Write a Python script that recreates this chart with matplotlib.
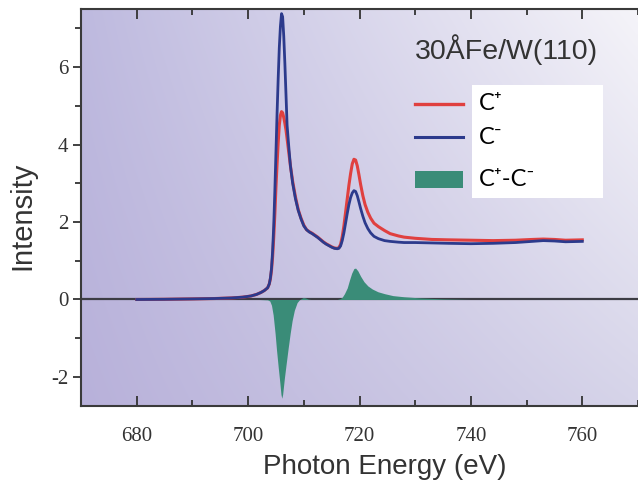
import numpy as np
import matplotlib
matplotlib.use("Agg")
import matplotlib.pyplot as plt
from matplotlib.lines import Line2D
from matplotlib.patches import Rectangle

# photon energy grid (eV) and the two helicity spectra
energy = [680, 685, 690, 694, 697, 699, 700.5, 701.5, 702.3, 702.9, 703.5, 703.8,
          704.0, 704.2, 704.4, 704.6, 704.8, 705.0, 705.2, 705.4, 705.6, 705.8,
          706.0, 706.2, 706.4, 706.6, 706.8, 707.0, 707.3, 707.6, 708.0, 708.5,
          709.0, 709.5, 710.0, 710.5, 711.0, 711.5, 712.0, 712.5, 713.0, 713.5,
          714.0, 714.5, 715.0, 715.5, 716.0, 716.3, 716.6, 716.9, 717.2, 717.5,
          717.8, 718.1, 718.4, 718.7, 719.0, 719.3, 719.6, 719.9, 720.2, 720.6,
          721.0, 721.5, 722.0, 722.6, 723.4, 724.5, 725.5, 727, 728, 730, 733, 736,
          740, 744, 748, 751, 753, 755, 757, 760]
c_plus = [0.0, 0.005, 0.015, 0.025, 0.04, 0.06, 0.09, 0.13, 0.18, 0.23, 0.3, 0.4,
          0.53, 0.75, 1.1, 1.6, 2.2, 2.9, 3.5, 4.05, 4.5, 4.75,
          4.85, 4.82, 4.7, 4.55, 4.38, 4.15, 3.8, 3.45, 3.05, 2.65,
          2.32, 2.1, 1.92, 1.8, 1.75, 1.71, 1.66, 1.61, 1.55, 1.49,
          1.44, 1.4, 1.36, 1.33, 1.32, 1.34, 1.42, 1.62, 1.9, 2.25,
          2.6, 2.95, 3.25, 3.5, 3.62, 3.6, 3.45, 3.22, 2.97, 2.68,
          2.45, 2.25, 2.1, 1.97, 1.88, 1.78, 1.7, 1.64, 1.61, 1.58, 1.55, 1.54,
          1.53, 1.52, 1.53, 1.55, 1.56, 1.55, 1.53, 1.54]
c_minus = [0.0, 0.005, 0.015, 0.025, 0.04, 0.06, 0.09, 0.13, 0.18, 0.23, 0.3, 0.4,
           0.55, 0.8, 1.25, 1.9, 2.8, 3.8, 4.8, 5.7, 6.5, 7.05,
           7.38, 7.3, 6.8, 6.1, 5.3, 4.5, 3.95, 3.45, 3.0, 2.6,
           2.3, 2.08, 1.9, 1.8, 1.74, 1.7, 1.65, 1.6, 1.54, 1.48,
           1.43, 1.39, 1.35, 1.32, 1.31, 1.32, 1.38, 1.52, 1.72, 1.97,
           2.22, 2.45, 2.63, 2.75, 2.81, 2.79, 2.68, 2.52, 2.35, 2.15,
           1.98, 1.83, 1.72, 1.63, 1.57, 1.52, 1.5, 1.48, 1.47, 1.47, 1.46, 1.45,
           1.44, 1.45, 1.47, 1.5, 1.52, 1.51, 1.49, 1.5]

# dichroism signal C+ - C-
energy_d = [680, 700, 702, 703.5, 703.9, 704.2, 704.5, 704.85, 705.1, 705.4, 705.7,
            705.9, 706.05, 706.2, 706.5, 706.8, 707.2, 707.55, 707.9, 708.3, 708.8,
            709.2, 709.5, 709.9, 710.3, 710.8, 711.3, 716.0, 716.5, 716.9, 717.3,
            717.8, 718.2, 718.6, 719.0, 719.3, 719.7, 720.2, 720.8, 721.5, 722.3,
            723.3, 724.5, 726, 728, 731, 735, 740, 760]
diff = [0.0, 0.0, 0.0, -0.01, -0.04, -0.15, -0.4, -0.88, -1.3, -1.74, -2.15,
        -2.45, -2.55, -2.45, -2.05, -1.7, -1.25, -0.88, -0.55, -0.28, -0.08,
        -0.01, 0.02, 0.05, 0.04, 0.01, 0.0, 0.0, 0.02, 0.06, 0.15,
        0.3, 0.5, 0.68, 0.8, 0.81, 0.74, 0.6, 0.46, 0.35, 0.27,
        0.2, 0.15, 0.1, 0.07, 0.04, 0.015, 0.0, 0.0]

x_ticks = [680, 700, 720, 740, 760]
y_ticks = [-2, 0, 2, 4, 6]

W, H = 638, 483
fig = plt.figure(figsize=(W / 100, H / 100), dpi=100)
ax = fig.add_axes([81 / W, 1 - 406 / H, 1 - 81 / W, (406 - 9) / H])

# lavender gradient background
tl = np.array([190, 186, 223]) / 255
tr = np.array([245, 244, 249]) / 255
bl = np.array([184, 177, 218]) / 255
br = np.array([214, 212, 233]) / 255
u = np.linspace(0, 1, 200)[None, :, None]
v = np.linspace(0, 1, 150)[:, None, None]
grad = (1 - v) * ((1 - u) * tl + u * tr) + v * ((1 - u) * bl + u * br)
ax.imshow(grad, extent=[0, 1, 0, 1], transform=ax.transAxes, aspect="auto",
          zorder=0, interpolation="bilinear")

ax.axhline(0, color="#3c3c44", lw=1.6, zorder=2)
ax.fill_between(energy_d, diff, 0, color="#3a8c78", lw=0, zorder=3)
ax.plot(energy, c_plus, color="#e0403f", lw=2.2, zorder=4,
        solid_joinstyle="round")
ax.plot(energy, c_minus, color="#2c3a8c", lw=2.0, zorder=5,
        solid_joinstyle="round")

ax.set_xlim(670, 770)
ax.set_ylim(-2.75, 7.5)
ax.set_xticks(x_ticks)
ax.set_xticks(np.arange(670, 771, 10), minor=True)
ax.set_yticks(y_ticks)
ax.set_yticks([-1, 1, 3, 5, 7], minor=True)

serif = {"family": "Liberation Serif", "size": 15}
ax.set_xticklabels([str(t) for t in x_ticks], fontdict=serif, color="#333333")
ax.set_yticklabels([str(t) for t in y_ticks], fontdict=serif, color="#333333")
ax.tick_params(axis="x", which="both", direction="in", top=True, color="#333333",
               width=1.3, pad=15)
ax.tick_params(axis="x", which="major", length=7)
ax.tick_params(axis="x", which="minor", length=4)
ax.tick_params(axis="y", which="both", direction="out", color="#333333", width=1.3,
               pad=3)
ax.tick_params(axis="y", which="major", length=6)
ax.tick_params(axis="y", which="minor", length=4)

for side in ["left", "bottom", "top"]:
    ax.spines[side].set_color("#3a3a3a")
    ax.spines[side].set_linewidth(1.5)
ax.spines["right"].set_visible(False)

ax.set_xlabel("Photon Energy (eV)", family="Liberation Sans", fontsize=20,
              color="#333333")
ax.xaxis.set_label_coords(0.545, -0.12)
ax.set_ylabel("Intensity", family="Liberation Sans", fontsize=21, color="#333333")
ax.yaxis.set_label_coords(-0.08, 0.48)

# sample label and hand-drawn legend
fig.text(415 / W, 1 - 50 / H, "30ÅFe/W(110)", ha="left", va="center",
         fontsize=20.5, family="Liberation Sans", color="#333333")
fig.add_artist(Rectangle((472 / W, 1 - 198 / H), 131 / W, 113 / H,
                         transform=fig.transFigure, facecolor="white",
                         edgecolor="none", zorder=6))
fig.add_artist(Line2D([415 / W, 463 / W], [1 - 104 / H] * 2, color="#e0403f",
                      lw=2.4, transform=fig.transFigure, zorder=7))
fig.add_artist(Line2D([415 / W, 463 / W], [1 - 137 / H] * 2, color="#2c3a8c",
                      lw=2.2, transform=fig.transFigure, zorder=7))
fig.add_artist(Rectangle((415 / W, 1 - 188 / H), 48 / W, 17 / H,
                         transform=fig.transFigure, facecolor="#3a8c78",
                         edgecolor="none", zorder=7))
leg_font = ["Lato", "DejaVu Sans"]
for yp, lab in [(104, "C⁺"), (137, "C⁻"), (180, "C⁺-C⁻")]:
    fig.text(479 / W, 1 - yp / H, lab, ha="left", va="center", fontsize=17,
             family=leg_font, color="black", zorder=8)

fig.savefig("out.png", dpi=100)
